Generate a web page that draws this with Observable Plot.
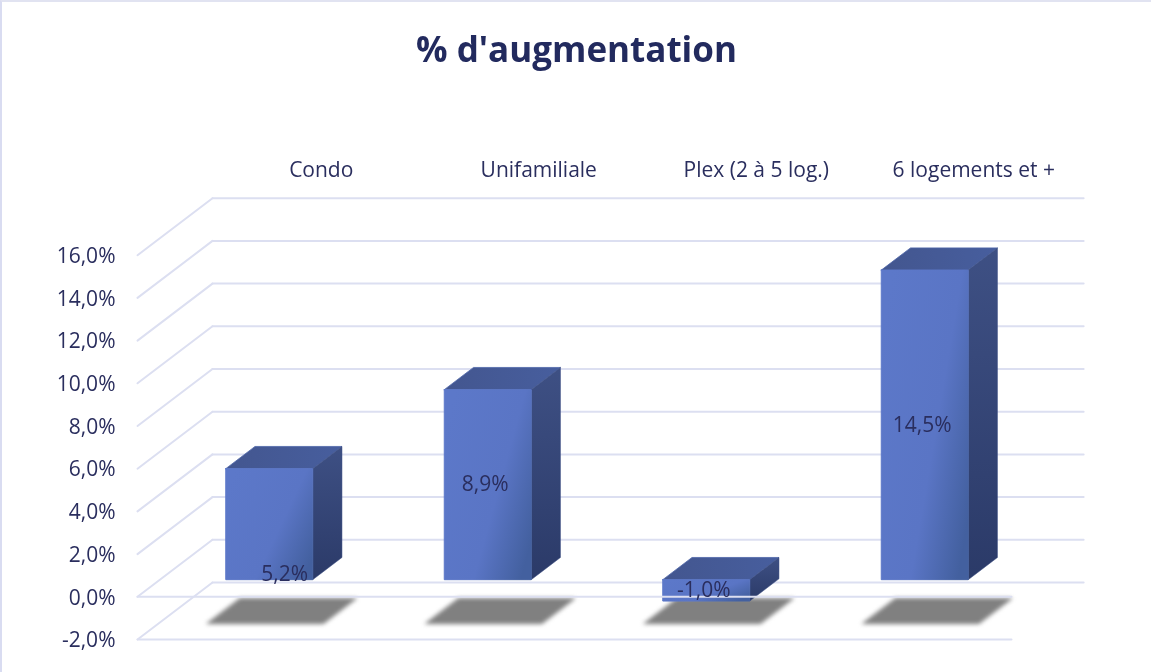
<!DOCTYPE html>
<html lang="fr">
<head>
<meta charset="utf-8">
<script src="https://cdn.jsdelivr.net/npm/d3@7"></script>
<script src="https://cdn.jsdelivr.net/npm/@observablehq/plot@0.6"></script>
<style>
  html, body { margin: 0; padding: 0; background: #fff; overflow: hidden; }
  #frame { position: fixed; left: 0; top: 0; width: 1151px; height: 672px; box-sizing: border-box;
           border-left: 2px solid #d9dcf1; border-top: 2px solid #e1e3f1; pointer-events: none; z-index: 5; }
  #title { height: 120px; box-sizing: border-box; padding-top: 25px; text-align: center; margin: 0;
           font: 700 35px/48px "Open Sans", sans-serif; color: #222a5e; filter: blur(0.3px); }
  #title span { position: relative; left: 1px; }
</style>
</head>
<body>
<div id="frame"></div>
<h1 id="title"><span>% d'augmentation</span></h1>
<div id="chart"></div>
<script>
const categories = ["Condo", "Unifamiliale", "Plex (2 à 5 log.)", "6 logements et +"];
const values = [5.2, 8.9, -1.0, 14.5];
const valueLabels = ["5,2%", "8,9%", "-1,0%", "14,5%"];
const ticks = [-2, 0, 2, 4, 6, 8, 10, 12, 14, 16];
const tickLabels = ["-2,0%", "0,0%", "2,0%", "4,0%", "6,0%", "8,0%", "10,0%", "12,0%", "14,0%", "16,0%"];

// Oblique projection of the chart's depth axis, in data units
const depthX = 0.3432, depthY = 2.67;
const project = (c, v, d) => ({x: c + d * depthX, y: v + d * depthY});
const barL = 0.301, barR = 0.699, barFront = 0.3, barBack = 0.69;
const textColor = "#2a2e5e", gridColor = "#dcdff1";

const poly = (id, pts) => [...pts, pts[0]].map(([c, v, d]) => ({id, ...project(c, v, d)}));

const front = [], top_ = [], side = [], shadow = [];
values.forEach((val, i) => {
  const hi = Math.max(val, 0), lo = Math.min(val, 0);
  const l = i + barL, r = i + barR;
  front.push(...poly(i, [[l, hi, barFront], [r, hi, barFront], [r, lo, barFront], [l, lo, barFront]]));
  top_.push(...poly(i, [[l, hi, barFront], [r, hi, barFront], [r, hi, barBack], [l, hi, barBack]]));
  side.push(...poly(i, [[r, hi, barFront], [r, hi, barBack], [r, lo, barBack], [r, lo, barFront]]));
  shadow.push(...poly(i, [[i + 0.222, -2, 0.28], [i + 0.755, -2, 0.28], [i + 0.755, -2, 0.72], [i + 0.222, -2, 0.72]]));
});

const wall = ticks.flatMap((t) => [
  {id: "b" + t, ...project(0, t, 1)},
  {id: "b" + t, ...project(3.987, t, 1)},
  {id: "s" + t, ...project(0, t, 0)},
  {id: "s" + t, ...project(0, t, 1)}
]);
const floorFront = [-2, 0].flatMap((t) => [
  {id: t, ...project(0, t, 0)},
  {id: t, ...project(4, t, 0)}
]);

const defs = () => d3.create("svg:defs").html(`
  <linearGradient id="gFront" x1="0" y1="0.2" x2="1" y2="0.8">
    <stop offset="0" stop-color="#5c78c9"/><stop offset="0.6" stop-color="#5a75c5"/><stop offset="1" stop-color="#43609f"/>
  </linearGradient>
  <linearGradient id="gTop" x1="0" y1="0" x2="1" y2="0">
    <stop offset="0" stop-color="#43568f"/><stop offset="1" stop-color="#475e9e"/>
  </linearGradient>
  <linearGradient id="gSide" x1="0" y1="0" x2="0" y2="1">
    <stop offset="0" stop-color="#3e5084"/><stop offset="1" stop-color="#2b3a68"/>
  </linearGradient>`).node();

const lineOpts = {x: "x", y: "y", z: "id"};
const center = (i) => project(i + 0.5, 0, barFront).x;
const textFont = {fill: textColor, fontSize: 21};

const plot = Plot.plot({
  width: 1151,
  height: 552,
  marginLeft: 137,
  marginRight: 140,
  marginTop: 134.7,
  marginBottom: 33,
  x: {domain: [0, 4], axis: null},
  y: {domain: [-2, 16], axis: null},
  style: {fontFamily: '"Open Sans", sans-serif', background: "transparent", overflow: "visible", filter: "blur(0.3px)"},
  marks: [
    defs,
    Plot.line(wall, {...lineOpts, stroke: gridColor, strokeWidth: 2}),
    Plot.line(shadow, {...lineOpts, fill: "#808080", stroke: "#808080", strokeWidth: 1, strokeLinejoin: "round", imageFilter: "blur(2.2px)"}),
    Plot.line(top_, {...lineOpts, fill: "url(#gTop)", stroke: "#4e66a8", strokeWidth: 0.8}),
    Plot.line(side, {...lineOpts, fill: "url(#gSide)", stroke: "#3e5084", strokeWidth: 0.5}),
    Plot.line(front, {...lineOpts, fill: "url(#gFront)", stroke: "url(#gFront)", strokeWidth: 1}),
    Plot.line(floorFront, {...lineOpts, stroke: gridColor, strokeWidth: 2}),
    Plot.axisY({ticks, tickFormat: (d) => tickLabels[ticks.indexOf(d)], tickSize: 0, tickPadding: 22,
      label: null, fontSize: 21, color: textColor, dy: 1}),
    Plot.text(categories, {
      x: (d, i) => i * 0.9955 + 0.5 + depthX, y: () => 16 + depthY, text: (d) => d, dx: -0.5, dy: -28,
      ...textFont
    }),
    Plot.text(valueLabels, {
      filter: (d, i) => i > 0,
      x: (d, i) => center(i),
      y: (d, i) => values[i] / 2 + barFront * depthY,
      text: (d) => d, dx: -2.5, ...textFont
    }),
    Plot.text(valueLabels, {
      filter: (d, i) => i === 0,
      x: (d, i) => center(i),
      y: () => barFront * depthY,
      text: (d) => d, dx: 15.5, dy: -5, ...textFont
    })
  ]
});
document.getElementById("chart").append(plot);
</script>
</body>
</html>
